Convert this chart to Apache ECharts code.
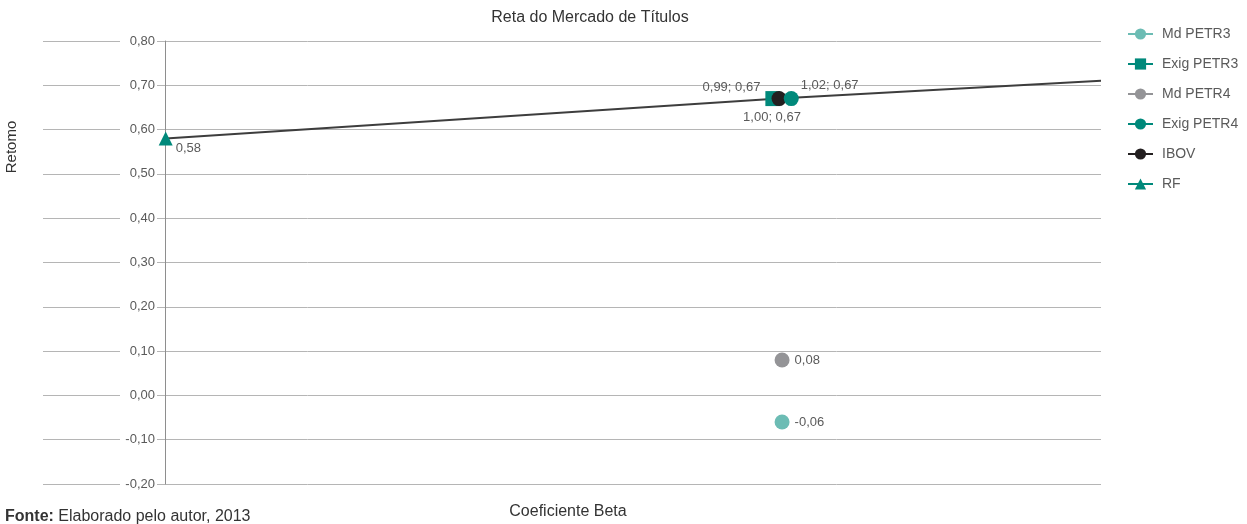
<!DOCTYPE html>
<html>
<head>
<meta charset="utf-8">
<title>Reta do Mercado de Títulos</title>
<script src="https://cdn.jsdelivr.net/npm/echarts@6/dist/echarts.min.js"></script>
<style>
  html, body { margin: 0; padding: 0; background: #ffffff; }
  #chart { width: 1247px; height: 524px; }
</style>
</head>
<body>
<div id="chart"></div>
<script>
// Beta / return pairs for each asset
const mdPetr3   = [[1.005, -0.06]];
const exigPetr3 = [[0.99, 0.67]];
const mdPetr4   = [[1.005, 0.08]];
const exigPetr4 = [[1.02, 0.67]];
const ibov      = [[1.00, 0.67]];
const rf        = [[0, 0.58]];
// Security market line, from the risk-free rate through the market portfolio
const smlLine   = [[0, 0.58], [1.00, 0.67], [1.525, 0.71]];

const legendNames = ['Md PETR3', 'Exig PETR3', 'Md PETR4', 'Exig PETR4', 'IBOV', 'RF'];
const yMin = -0.2, yMax = 0.8, yStep = 0.1;
const xMin = -0.2, xMax = 1.525;

const FONT = "'Liberation Sans', Arial, Helvetica, sans-serif";
const TEXT = '#5a5a5a';
const TEAL = '#00897b';
const TEAL_LIGHT = '#6cbcb4';
const GREY = '#949497';
const BLACK = '#231f20';

const fmt = v => v.toFixed(2).replace('.', ',');
const pairLabel = p => fmt(p.value[0]) + '; ' + fmt(p.value[1]);
const yLabel = p => fmt(p.value[1]);

function pointSeries(name, data, symbol, size, color, label, z) {
  return {
    name, type: 'line', data, symbol, symbolSize: size, z,
    itemStyle: { color },
    lineStyle: { color, width: 2 },
    emphasis: { disabled: true },
    label: Object.assign({
      show: true, color: TEXT, fontSize: 13, fontFamily: FONT
    }, label)
  };
}

const chart = echarts.init(document.getElementById('chart'), null, { renderer: 'canvas' });

chart.setOption({
  animation: false,
  backgroundColor: '#ffffff',
  textStyle: { fontFamily: FONT },
  grid: { left: 43, right: 146, top: 41, bottom: 40, containLabel: false },
  xAxis: [{
    type: 'value', min: xMin, max: xMax,
    axisLine: { show: false }, axisTick: { show: false },
    axisLabel: { show: false }, splitLine: { show: false }
  }],
  yAxis: [{
    // gridlines and the vertical axis line at beta = 0
    type: 'value', min: yMin, max: yMax, interval: yStep,
    axisLine: { show: true, onZero: true, lineStyle: { color: '#8e8e8e', width: 1 } },
    axisTick: { show: false },
    axisLabel: { show: false },
    splitLine: { show: true, lineStyle: { color: '#b5b5b5', width: 1 } }
  }, {
    // tick labels sitting on the gridlines, on a white box
    type: 'value', min: yMin, max: yMax, interval: yStep, position: 'left', z: 10,
    axisLine: { show: false, onZero: false },
    axisTick: { show: false },
    splitLine: { show: false },
    axisLabel: {
      show: true, inside: true, margin: 114, align: 'right',
      verticalAlign: 'middle', width: 35, lineHeight: 13,
      padding: [0, 2, 15, 0], backgroundColor: '#ffffff',
      color: TEXT, fontSize: 13, fontFamily: FONT,
      formatter: v => fmt(v)
    }
  }],
  legend: {
    data: legendNames,
    orient: 'vertical', left: 1127, top: 27, padding: 0,
    itemWidth: 25, itemHeight: 14, itemGap: 16,
    textStyle: { color: TEXT, fontSize: 14, fontFamily: FONT, padding: [0, 0, 0, 4] }
  },
  series: [
    {
      name: 'SML', type: 'line', data: smlLine, symbol: 'none', z: 1,
      lineStyle: { color: '#3d3d3d', width: 2 }, silent: true
    },
    pointSeries('Md PETR3', mdPetr3, 'circle', 15, TEAL_LIGHT,
      { position: 'right', formatter: yLabel }, 2),
    pointSeries('Exig PETR3', exigPetr3, 'rect', 15, TEAL,
      { position: 'left', offset: [0, -11], formatter: pairLabel }, 2),
    pointSeries('Md PETR4', mdPetr4, 'circle', 15, GREY,
      { position: 'right', formatter: yLabel }, 2),
    pointSeries('Exig PETR4', exigPetr4, 'circle', 15, TEAL,
      { position: 'right', offset: [-3, -13], formatter: pairLabel }, 4),
    pointSeries('IBOV', ibov, 'circle', 15, BLACK,
      { position: 'bottom', offset: [-7, 0], formatter: pairLabel }, 3),
    pointSeries('RF', rf, 'triangle', 14, TEAL,
      { position: 'right', offset: [-2, 10], formatter: yLabel }, 4)
  ],
  graphic: [
    {
      type: 'text', x: 590, y: 18,
      style: { text: 'Reta do Mercado de Títulos', fill: '#333333',
        font: '16px ' + FONT, align: 'center', verticalAlign: 'middle' }
    },
    {
      type: 'text', x: 568, y: 512,
      style: { text: 'Coeficiente Beta', fill: '#333333',
        font: '16px ' + FONT, align: 'center', verticalAlign: 'middle' }
    },
    {
      type: 'text', x: 12, y: 147, rotation: Math.PI / 2,
      style: { text: 'Retomo', fill: '#333333',
        font: '15px ' + FONT, align: 'center', verticalAlign: 'middle' }
    },
    {
      type: 'text', x: 5, y: 517,
      style: {
        text: '{b|Fonte:} Elaborado pelo autor, 2013',
        fill: '#333333', font: '16px ' + FONT, verticalAlign: 'middle',
        rich: { b: { fontWeight: 'bold', fontSize: 16, fontFamily: FONT, fill: '#333333' } }
      }
    }
  ]
});
</script>
</body>
</html>
